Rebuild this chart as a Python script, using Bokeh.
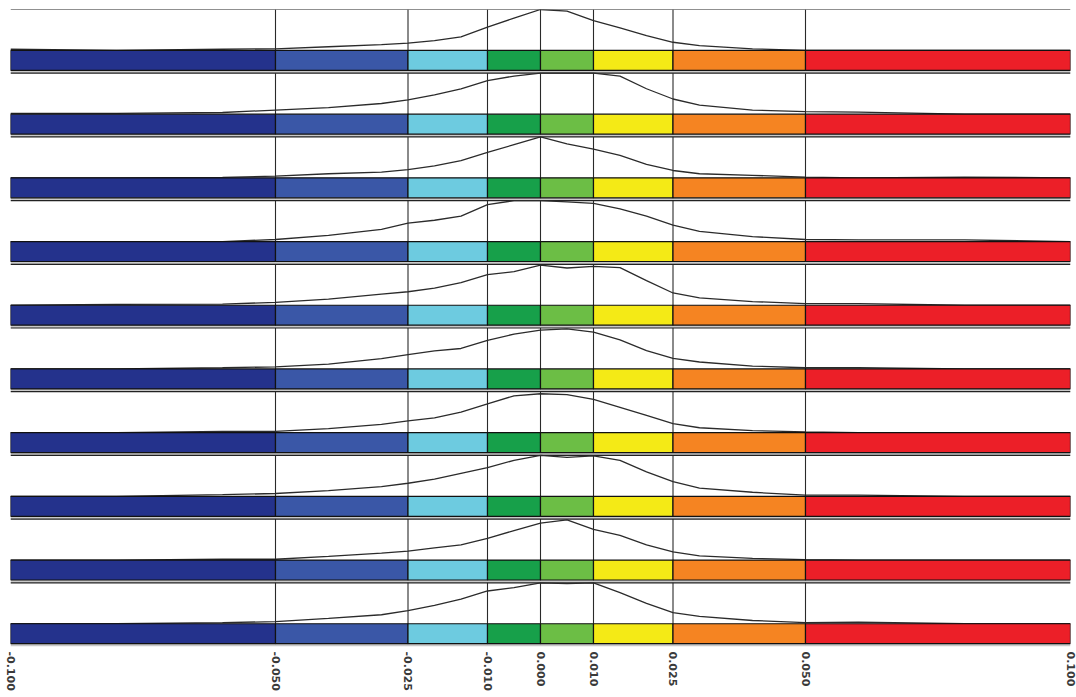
import math
from bokeh.plotting import figure
from bokeh.models import FixedTicker
from bokeh.embed import file_html
from bokeh.resources import INLINE

# ---- data ----
class_edges = [-0.100, -0.050, -0.025, -0.010, 0.000, 0.010, 0.025, 0.050, 0.100]
tick_labels = ["-0.100", "-0.050", "-0.025", "-0.010", "0.000", "0.010", "0.025", "0.050", "0.100"]
class_colors = ["#24328c", "#3a57a7", "#6dcbe0", "#17a04a", "#6cbe45", "#f4ea16", "#f58422", "#ec1f28"]

curve_x = [-0.100, -0.080, -0.060, -0.050, -0.040, -0.030, -0.025, -0.020, -0.015, -0.010, -0.005,
           0.000, 0.005, 0.010, 0.015, 0.020, 0.025, 0.030, 0.040, 0.050, 0.060, 0.080, 0.100]

row1 = [0.03, 0.00, 0.03, 0.04, 0.09, 0.14, 0.18, 0.24, 0.33, 0.57, 0.79, 1.00, 0.96, 0.73, 0.55, 0.36, 0.20, 0.12, 0.04, 0.00, 0.00, 0.00, 0.00]
row2 = [0.02, 0.02, 0.04, 0.10, 0.16, 0.26, 0.35, 0.47, 0.62, 0.82, 0.93, 1.00, 1.00, 1.00, 0.93, 0.62, 0.37, 0.22, 0.10, 0.06, 0.05, 0.00, 0.00]
row3 = [0.00, 0.00, 0.01, 0.04, 0.10, 0.14, 0.20, 0.29, 0.42, 0.62, 0.81, 1.00, 0.83, 0.70, 0.55, 0.33, 0.18, 0.10, 0.06, 0.02, 0.00, 0.02, 0.00]
row4 = [0.00, 0.00, 0.00, 0.05, 0.15, 0.30, 0.45, 0.52, 0.62, 0.90, 1.00, 1.00, 0.97, 0.93, 0.80, 0.62, 0.40, 0.25, 0.12, 0.05, 0.04, 0.04, 0.00]
row5 = [0.00, 0.02, 0.03, 0.07, 0.15, 0.27, 0.33, 0.42, 0.55, 0.75, 0.82, 0.98, 0.91, 0.95, 0.92, 0.60, 0.30, 0.18, 0.09, 0.04, 0.04, 0.00, 0.00]
row6 = [0.00, 0.00, 0.03, 0.05, 0.12, 0.25, 0.35, 0.44, 0.50, 0.70, 0.85, 0.95, 0.98, 0.90, 0.71, 0.45, 0.26, 0.17, 0.07, 0.03, 0.03, 0.00, 0.00]
row7 = [0.00, 0.00, 0.03, 0.03, 0.10, 0.20, 0.29, 0.36, 0.50, 0.70, 0.90, 0.95, 0.93, 0.81, 0.62, 0.42, 0.22, 0.12, 0.05, 0.02, 0.00, 0.00, 0.00]
row8 = [0.00, 0.00, 0.04, 0.07, 0.14, 0.24, 0.32, 0.42, 0.56, 0.70, 0.88, 1.00, 0.95, 0.99, 0.88, 0.60, 0.36, 0.20, 0.10, 0.03, 0.03, 0.00, 0.00]
row9 = [0.00, 0.00, 0.02, 0.02, 0.09, 0.17, 0.22, 0.30, 0.37, 0.53, 0.72, 0.90, 0.98, 0.75, 0.60, 0.37, 0.20, 0.10, 0.04, 0.01, 0.00, 0.00, 0.00]
row10 = [0.00, 0.00, 0.03, 0.05, 0.13, 0.22, 0.32, 0.45, 0.60, 0.80, 0.88, 1.00, 0.98, 1.00, 0.76, 0.50, 0.27, 0.18, 0.08, 0.03, 0.04, 0.00, 0.00]
rows = [row1, row2, row3, row4, row5, row6, row7, row8, row9, row10]

# ---- layout ----
n = len(rows)
p = figure(width=1076, height=693, x_range=(-0.1, 0.1), y_range=(0, n),
           output_backend="svg", toolbar_location=None, y_axis_location=None,
           min_border_left=10, min_border_right=6, min_border_top=9, min_border_bottom=46)
p.grid.visible = False
p.outline_line_color = None
p.background_fill_color = "white"
p.border_fill_color = "white"

bar_top_off = 0.643
bar_bot_off = 0.956
inner = class_edges[1:-1]

for i, vals in enumerate(rows):
    T = n - i
    btop = T - bar_top_off
    bbot = T - bar_bot_off
    # gray separator band below the bar
    p.quad(left=[class_edges[0]], right=[class_edges[-1]], bottom=[T - 1], top=[bbot],
           fill_color="#c9c9c9", line_color=None)
    # vertical class boundary lines
    p.segment(x0=inner, x1=inner, y0=[bbot] * len(inner), y1=[T] * len(inner),
              line_color="#2a2a2a", line_width=1.1)
    # row top line
    p.segment(x0=[class_edges[0]], x1=[class_edges[-1]], y0=[T], y1=[T],
              line_color="#222222", line_width=1.2)
    # distribution curve
    p.line(curve_x, [btop + v * bar_top_off for v in vals], line_color="#2b2b2b", line_width=1.3)
    # colour bar
    p.quad(left=class_edges[:-1], right=class_edges[1:], bottom=[bbot] * 8, top=[btop] * 8,
           fill_color=class_colors, line_color="#111111", line_width=1.2)

ax = p.xaxis[0]
ax.ticker = FixedTicker(ticks=class_edges)
ax.major_label_overrides = {e: t for e, t in zip(class_edges, tick_labels)}
ax.major_label_orientation = -math.pi / 2
ax.axis_line_color = None
ax.major_tick_line_color = None
ax.minor_tick_line_color = None
ax.major_tick_out = 0
ax.major_tick_in = 0
ax.minor_tick_out = 0
ax.minor_tick_in = 0
ax.major_label_standoff = 5
ax.major_label_text_font = "DejaVu Sans"
ax.major_label_text_font_size = "11px"
ax.major_label_text_font_style = "bold"
ax.major_label_text_color = "#3a3a3a"

open("out.html", "w").write(file_html(p, INLINE))
